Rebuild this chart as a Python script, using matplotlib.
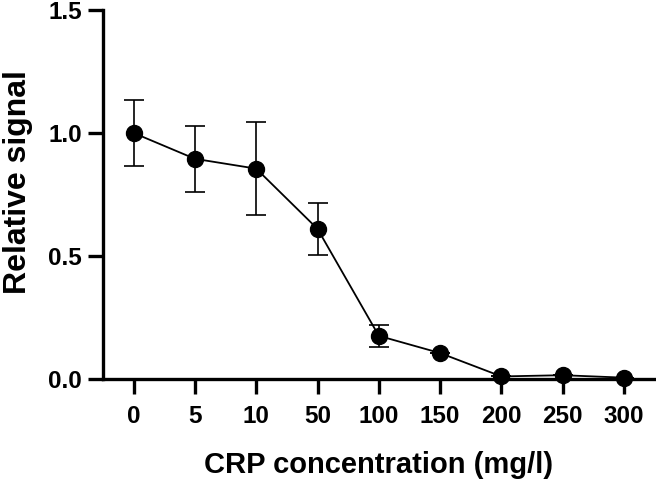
import numpy as np
import matplotlib.pyplot as plt

plt.rcParams['font.family'] = ['Liberation Sans', 'DejaVu Sans']
plt.rcParams['font.weight'] = 'bold'

labels = ['0', '5', '10', '50', '100', '150', '200', '250', '300']
signal = [1.00, 0.895, 0.855, 0.61, 0.175, 0.105, 0.01, 0.015, 0.005]
err = [0.135, 0.135, 0.19, 0.105, 0.045, 0, 0, 0, 0]

fig = plt.figure(figsize=(6.56, 4.79), dpi=100)
ax = fig.add_axes([0.157, 0.209, 0.841, 0.77])

x = np.arange(len(labels))
ax.errorbar(x, signal, yerr=err, color='black', lw=1.3, elinewidth=1.2,
            capsize=7, capthick=1.2, marker='o', markersize=11.5, clip_on=False, zorder=3)

ax.set_xlim(-0.5, 8.5)
ax.set_ylim(0, 1.5)
ax.set_yticks([0, 0.5, 1.0, 1.5])
ax.set_yticklabels(['0.0', '0.5', '1.0', '1.5'])
ax.set_xticks(x)
ax.set_xticklabels(labels)

for s in ['top', 'right']:
    ax.spines[s].set_visible(False)
for s in ['left', 'bottom']:
    ax.spines[s].set_linewidth(2.4)

ax.tick_params(axis='both', width=2.4, length=11, labelsize=17.5)
ax.tick_params(axis='y', pad=4)
ax.tick_params(axis='x', pad=8)
ax.set_xlabel('CRP concentration (mg/l)', fontsize=21, fontweight='bold', labelpad=16)
ax.set_ylabel('Relative signal', fontsize=23, fontweight='bold')
ax.yaxis.set_label_coords(-0.126, 0.535)

fig.savefig('out.png', dpi=100)
